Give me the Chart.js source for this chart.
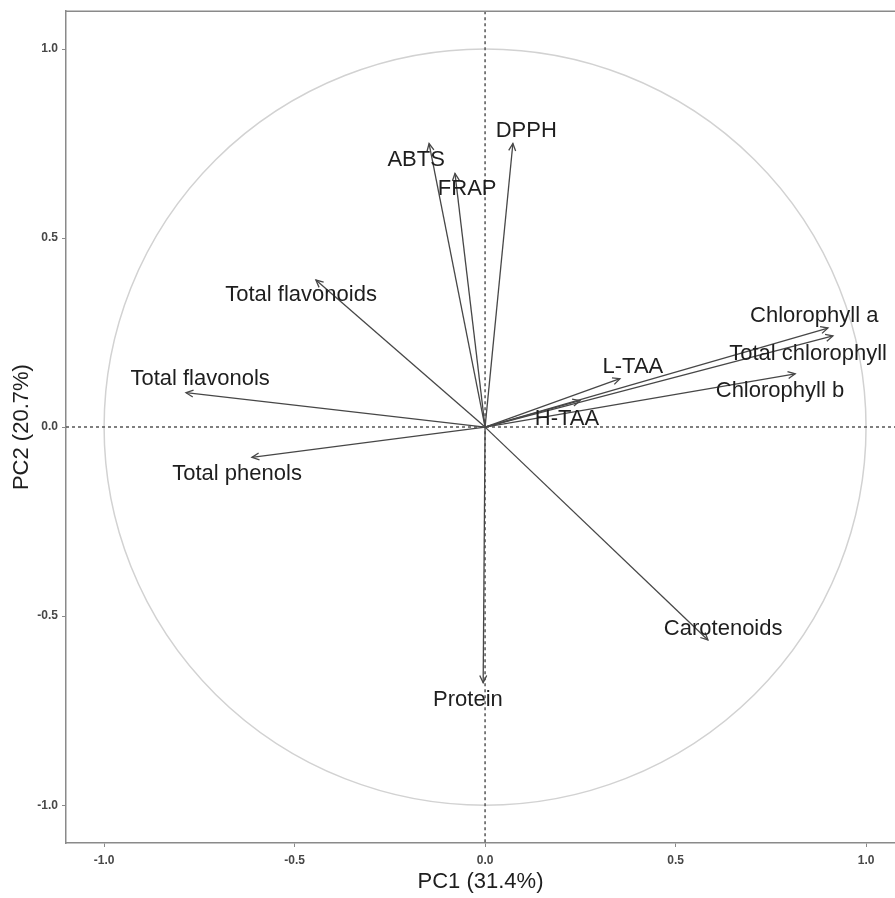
<!DOCTYPE html>
<html>
<head>
<meta charset="utf-8">
<style>
  html, body { margin: 0; padding: 0; background: #fff; }
  canvas { display: block; }
</style>
</head>
<body>
<canvas id="pcaChart" width="895" height="898"></canvas>

<script src="https://cdn.jsdelivr.net/npm/chart.js"></script>
<script>
// variables and their loadings on PC1 / PC2
const variables = ["ABTS", "FRAP", "DPPH", "Total flavonoids", "Total flavonols", "Total phenols",
  "L-TAA", "H-TAA", "Chlorophyll a", "Total chlorophyll", "Chlorophyll b", "Carotenoids", "Protein"];
const pc1 = [-0.147, -0.079, 0.073, -0.444, -0.785, -0.612, 0.354, 0.249, 0.900, 0.913, 0.814, 0.585, -0.005];
const pc2 = [0.750, 0.671, 0.750, 0.389, 0.091, -0.080, 0.128, 0.070, 0.262, 0.241, 0.141, -0.563, -0.676];
// where each label sits (repelled text positions, in PC units)
const labelX = [-0.181, -0.047, 0.108, -0.483, -0.748, -0.651, 0.388, 0.215, 0.864, 0.848, 0.774, 0.625, -0.045];
const labelY = [0.707, 0.631, 0.784, 0.349, 0.128, -0.123, 0.159, 0.022, 0.294, 0.194, 0.096, -0.534, -0.721];
const xTicks = [-1.0, -0.5, 0.0, 0.5, 1.0];
const yTicks = [-1.0, -0.5, 0.0, 0.5, 1.0];

const FONT = "'Liberation Sans', Arial, Helvetica, sans-serif";
const ARROW = "#474747";

const datasets = variables.map((v, i) => ({
  label: v,
  data: [{ x: 0, y: 0 }, { x: pc1[i], y: pc2[i] }],
  showLine: true,
  borderColor: ARROW,
  borderWidth: 1.3,
  pointRadius: 0
}));

// correlation circle + dotted zero lines, drawn under the arrows
const backdrop = {
  id: "backdrop",
  beforeDatasetsDraw(chart) {
    const { ctx, chartArea: a, scales: { x, y } } = chart;
    const cx = x.getPixelForValue(0), cy = y.getPixelForValue(0);
    ctx.save();
    ctx.beginPath();
    ctx.rect(a.left, a.top, a.right - a.left, a.bottom - a.top);
    ctx.clip();
    ctx.strokeStyle = "#d2d2d2";
    ctx.lineWidth = 1.5;
    ctx.beginPath();
    ctx.ellipse(cx, cy, x.getPixelForValue(1) - cx, cy - y.getPixelForValue(1), 0, 0, Math.PI * 2);
    ctx.stroke();
    ctx.strokeStyle = "#555";
    ctx.lineWidth = 1.5;
    ctx.setLineDash([3, 3]);
    ctx.beginPath();
    ctx.moveTo(cx, a.top); ctx.lineTo(cx, a.bottom);
    ctx.moveTo(a.left, cy); ctx.lineTo(a.right, cy);
    ctx.stroke();
    ctx.restore();
  },
  afterDraw(chart) {
    // top border of the panel
    const { ctx, chartArea: a } = chart;
    ctx.save();
    ctx.strokeStyle = "#8a8a8a";
    ctx.lineWidth = 1.5;
    ctx.beginPath();
    ctx.moveTo(a.left, a.top); ctx.lineTo(a.right, a.top);
    ctx.stroke();
    ctx.restore();
  }
};

// open arrowheads and variable names
const arrowsAndLabels = {
  id: "arrowsAndLabels",
  afterDatasetsDraw(chart) {
    const { ctx, scales: { x, y } } = chart;
    const ox = x.getPixelForValue(0), oy = y.getPixelForValue(0);
    ctx.save();
    ctx.strokeStyle = ARROW;
    ctx.lineWidth = 1.3;
    variables.forEach((v, i) => {
      const tx = x.getPixelForValue(pc1[i]), ty = y.getPixelForValue(pc2[i]);
      const ang = Math.atan2(ty - oy, tx - ox);
      const len = 8, spread = Math.PI / 7;
      ctx.beginPath();
      ctx.moveTo(tx - len * Math.cos(ang - spread), ty - len * Math.sin(ang - spread));
      ctx.lineTo(tx, ty);
      ctx.lineTo(tx - len * Math.cos(ang + spread), ty - len * Math.sin(ang + spread));
      ctx.stroke();
    });
    ctx.fillStyle = "#1e1e1e";
    ctx.font = "22px " + FONT;
    ctx.textAlign = "center";
    ctx.textBaseline = "middle";
    variables.forEach((v, i) => {
      ctx.fillText(v, x.getPixelForValue(labelX[i]), y.getPixelForValue(labelY[i]));
    });
    ctx.restore();
  }
};

new Chart(document.getElementById("pcaChart"), {
  type: "scatter",
  data: { datasets },
  plugins: [backdrop, arrowsAndLabels],
  options: {
    responsive: false,
    animation: false,
    devicePixelRatio: 1,
    layout: { padding: { top: 8, right: 0, left: 0, bottom: 0 } },
    plugins: { legend: { display: false }, tooltip: { enabled: false } },
    scales: {
      x: {
        type: "linear",
        min: -1.1, max: 1.076,
        afterBuildTicks: s => { s.ticks = xTicks.map(v => ({ value: v })); },
        afterFit: s => { s.height = 55; },
        ticks: { callback: v => v.toFixed(1), color: "#474747", font: { family: FONT, size: 12, weight: "bold" }, padding: 6, maxRotation: 0 },
        grid: { drawOnChartArea: false, drawTicks: true, tickLength: 4, color: "#8a8a8a", tickWidth: 1 },
        border: { display: true, color: "#8a8a8a", width: 1.5 },
        title: { display: true, text: "PC1 (31.4%)", color: "#1e1e1e", font: { family: FONT, size: 22 }, padding: { top: 0, bottom: 3 } }
      },
      y: {
        type: "linear",
        min: -1.1, max: 1.1,
        afterBuildTicks: s => { s.ticks = yTicks.map(v => ({ value: v })); },
        afterFit: s => { s.width = 66; },
        ticks: { callback: v => v.toFixed(1), color: "#474747", font: { family: FONT, size: 12, weight: "bold" }, padding: 4 },
        grid: { drawOnChartArea: false, drawTicks: true, tickLength: 4, color: "#8a8a8a", tickWidth: 1 },
        border: { display: true, color: "#8a8a8a", width: 1.5 },
        title: { display: true, text: "PC2 (20.7%)", color: "#1e1e1e", font: { family: FONT, size: 22 }, padding: { top: 9, bottom: 0 } }
      }
    }
  }
});
</script>
</body>
</html>
